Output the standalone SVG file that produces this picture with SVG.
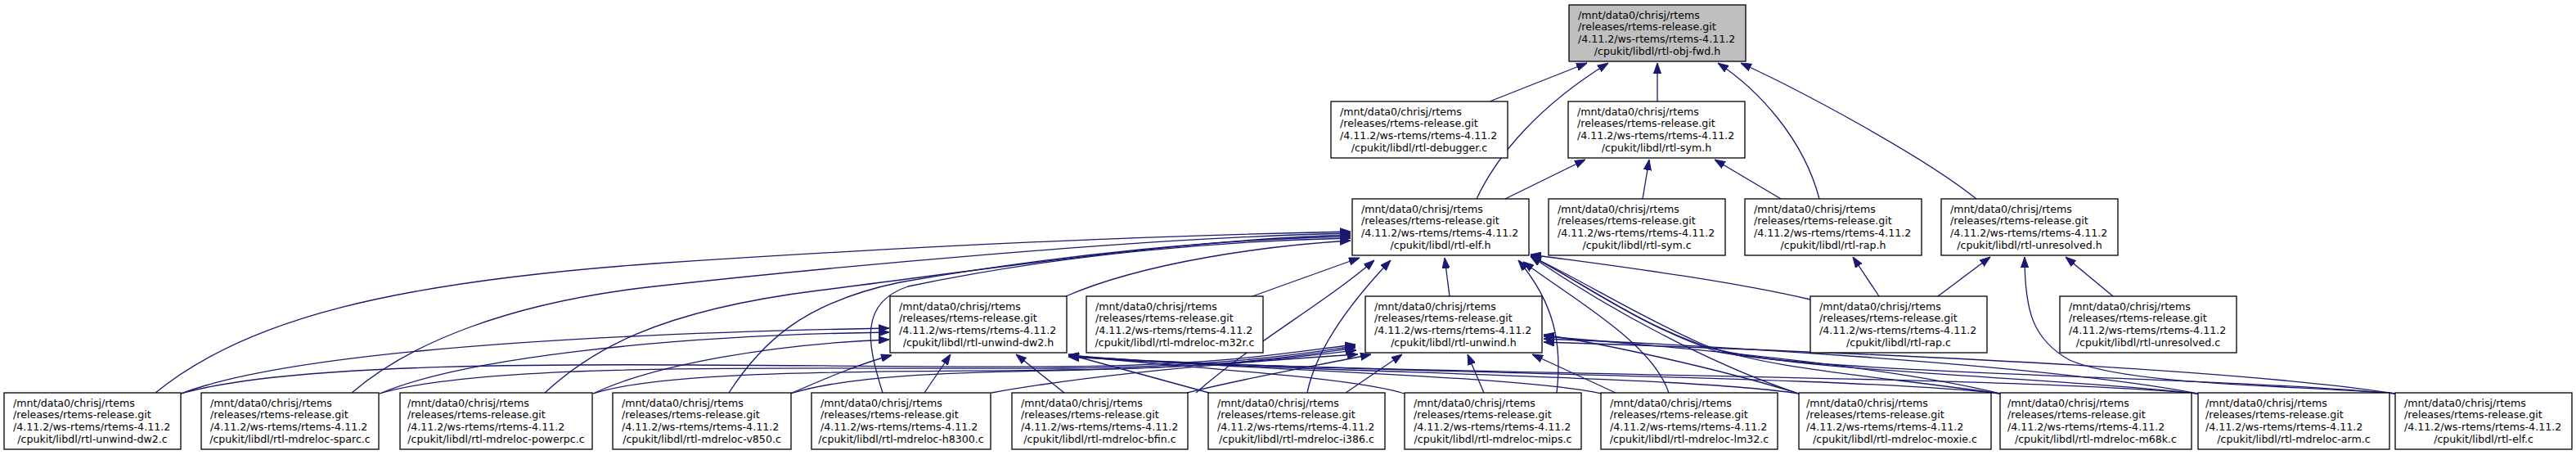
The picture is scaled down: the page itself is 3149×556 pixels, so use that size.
<svg xmlns="http://www.w3.org/2000/svg" width="3149" height="556" viewBox="0 0 3149 556">
<style>
.n rect{fill:#fff;stroke:#000;stroke-width:1.3}
#objfwd rect{fill:#bfbfbf}
text{font-family:"DejaVu Sans","Liberation Sans",sans-serif;font-size:12.6px;fill:#000}
.e path{fill:none;stroke:#191970;stroke-width:1.3;marker-end:url(#a)}
</style>
<defs>
<marker id="a" markerWidth="13" markerHeight="10" refX="13" refY="5" orient="auto" markerUnits="userSpaceOnUse"><path d="M0,0.4 L13,5 L0,9.6 z" fill="#191970" stroke="#191970" stroke-width="1"/></marker>
</defs>
<rect width="3149" height="556" fill="#fff"/>
<g id="connectors" class="e">
<path d="M1821,124 L1940,77"/>
<path d="M1805,243 C1830,190 1880,130 1966,77"/>
<path d="M2026,124 L2026,77"/>
<path d="M2224,243 C2205,170 2150,110 2100,77"/>
<path d="M2416,243 C2350,190 2200,110 2128,77"/>
<path d="M1840,243 L1938,195"/>
<path d="M2008,243 L2016,195"/>
<path d="M2177,243 L2096,195"/>
<path d="M2297,362 L2265,314"/>
<path d="M2369,362 L2433,314"/>
<path d="M2583,362 L2525,314"/>
<path d="M2930,481 C2780,470 2600,470 2530,440 C2485,415 2475,380 2475,314"/>
<path d="M1303,362 C1400,320 1550,300 1651,294"/>
<path d="M1531,362 L1662,315"/>
<path d="M1772,362 L1766,315"/>
<path d="M2213,366 C2100,340 1950,322 1871,311"/>
<path d="M190,480 C300,390 480,345 800,322 C1100,302 1400,288 1651,283"/>
<path d="M430,480 C500,420 620,370 800,350 C1000,328 1400,290 1651,285"/>
<path d="M666,480 C720,430 800,380 1000,355 C1200,330 1450,292 1651,287"/>
<path d="M891,480 C930,420 980,370 1100,345 C1300,310 1500,292 1651,289"/>
<path d="M1079,480 C1060,420 1050,370 1110,350 C1300,310 1500,294 1651,291"/>
<path d="M1462,480 C1530,420 1620,370 1680,318"/>
<path d="M1598,480 C1610,420 1660,360 1700,318"/>
<path d="M1903,480 C1910,420 1900,370 1856,318"/>
<path d="M2040,480 C2020,420 1930,370 1862,320"/>
<path d="M2199,481 C2120,455 2000,400 1871,313"/>
<path d="M2445,481 C2300,460 2150,450 2080,420 C2000,385 1930,340 1871,313"/>
<path d="M2687,481 C2500,460 2200,455 2090,425 C2000,395 1935,345 1871,313"/>
<path d="M2928,481 C2700,460 2250,458 2100,430 C2010,400 1940,350 1871,312"/>
<path d="M221,481 C330,440 600,410 1087,401"/>
<path d="M464,481 C560,440 800,410 1087,406"/>
<path d="M725,481 C800,445 950,420 1087,415"/>
<path d="M966,481 C1010,462 1050,445 1090,434"/>
<path d="M1130,480 L1162,433"/>
<path d="M1301,480 L1242,433"/>
<path d="M1478,480 L1306,433"/>
<path d="M1717,481 C1650,460 1450,450 1306,434"/>
<path d="M1958,481 C1850,458 1500,452 1306,434"/>
<path d="M2199,481 C2050,458 1550,455 1306,435"/>
<path d="M2445,481 C2250,458 1600,456 1306,435"/>
<path d="M2687,481 C2450,458 1650,458 1306,436"/>
<path d="M221,481 C400,430 900,450 1300,448 C1500,446 1580,430 1657,421"/>
<path d="M464,481 C600,440 1000,452 1300,450 C1500,448 1590,432 1657,423"/>
<path d="M725,481 C820,450 1100,455 1300,452 C1500,450 1590,434 1657,425"/>
<path d="M966,481 C1050,455 1200,455 1320,452 C1500,448 1590,436 1658,428"/>
<path d="M1212,480 C1350,455 1550,440 1660,433"/>
<path d="M1451,480 C1530,460 1620,445 1676,433"/>
<path d="M1645,480 L1714,433"/>
<path d="M1814,480 L1794,433"/>
<path d="M1975,480 L1873,433"/>
<path d="M2199,481 C2100,450 1960,420 1887,409"/>
<path d="M2445,481 C2300,445 2000,420 1887,411"/>
<path d="M2687,481 C2500,445 2050,420 1887,414"/>
<path d="M2928,481 C2700,445 2100,425 1887,418"/>
</g>
<g id="objfwd" class="n"><rect x="1918" y="6" width="216" height="69"/><text><tspan x="1929" y="22.5">/mnt/data0/chrisj/rtems</tspan><tspan x="1929" y="37.2">/releases/rtems-release.git</tspan><tspan x="1929" y="51.9">/4.11.2/ws-rtems/rtems-4.11.2</tspan><tspan x="2026" y="66.6" text-anchor="middle">/cpukit/libdl/rtl-obj-fwd.h</tspan></text></g>
<g id="debugger" class="n"><rect x="1627" y="124" width="216" height="69"/><text><tspan x="1638" y="140.5">/mnt/data0/chrisj/rtems</tspan><tspan x="1638" y="155.2">/releases/rtems-release.git</tspan><tspan x="1638" y="169.9">/4.11.2/ws-rtems/rtems-4.11.2</tspan><tspan x="1735" y="184.6" text-anchor="middle">/cpukit/libdl/rtl-debugger.c</tspan></text></g>
<g id="symh" class="n"><rect x="1917" y="124" width="216" height="69"/><text><tspan x="1928" y="140.5">/mnt/data0/chrisj/rtems</tspan><tspan x="1928" y="155.2">/releases/rtems-release.git</tspan><tspan x="1928" y="169.9">/4.11.2/ws-rtems/rtems-4.11.2</tspan><tspan x="2025" y="184.6" text-anchor="middle">/cpukit/libdl/rtl-sym.h</tspan></text></g>
<g id="elfh" class="n"><rect x="1653" y="243" width="216" height="69"/><text><tspan x="1664" y="259.5">/mnt/data0/chrisj/rtems</tspan><tspan x="1664" y="274.2">/releases/rtems-release.git</tspan><tspan x="1664" y="288.9">/4.11.2/ws-rtems/rtems-4.11.2</tspan><tspan x="1761" y="303.6" text-anchor="middle">/cpukit/libdl/rtl-elf.h</tspan></text></g>
<g id="symc" class="n"><rect x="1893" y="243" width="216" height="69"/><text><tspan x="1904" y="259.5">/mnt/data0/chrisj/rtems</tspan><tspan x="1904" y="274.2">/releases/rtems-release.git</tspan><tspan x="1904" y="288.9">/4.11.2/ws-rtems/rtems-4.11.2</tspan><tspan x="2001" y="303.6" text-anchor="middle">/cpukit/libdl/rtl-sym.c</tspan></text></g>
<g id="raph" class="n"><rect x="2133" y="243" width="216" height="69"/><text><tspan x="2144" y="259.5">/mnt/data0/chrisj/rtems</tspan><tspan x="2144" y="274.2">/releases/rtems-release.git</tspan><tspan x="2144" y="288.9">/4.11.2/ws-rtems/rtems-4.11.2</tspan><tspan x="2241" y="303.6" text-anchor="middle">/cpukit/libdl/rtl-rap.h</tspan></text></g>
<g id="unresh" class="n"><rect x="2373" y="243" width="216" height="69"/><text><tspan x="2384" y="259.5">/mnt/data0/chrisj/rtems</tspan><tspan x="2384" y="274.2">/releases/rtems-release.git</tspan><tspan x="2384" y="288.9">/4.11.2/ws-rtems/rtems-4.11.2</tspan><tspan x="2481" y="303.6" text-anchor="middle">/cpukit/libdl/rtl-unresolved.h</tspan></text></g>
<g id="dw2h" class="n"><rect x="1088" y="362" width="216" height="69"/><text><tspan x="1099" y="378.5">/mnt/data0/chrisj/rtems</tspan><tspan x="1099" y="393.2">/releases/rtems-release.git</tspan><tspan x="1099" y="407.9">/4.11.2/ws-rtems/rtems-4.11.2</tspan><tspan x="1196" y="422.6" text-anchor="middle">/cpukit/libdl/rtl-unwind-dw2.h</tspan></text></g>
<g id="m32r" class="n"><rect x="1328" y="362" width="216" height="69"/><text><tspan x="1339" y="378.5">/mnt/data0/chrisj/rtems</tspan><tspan x="1339" y="393.2">/releases/rtems-release.git</tspan><tspan x="1339" y="407.9">/4.11.2/ws-rtems/rtems-4.11.2</tspan><tspan x="1436" y="422.6" text-anchor="middle">/cpukit/libdl/rtl-mdreloc-m32r.c</tspan></text></g>
<g id="unwh" class="n"><rect x="1669" y="362" width="216" height="69"/><text><tspan x="1680" y="378.5">/mnt/data0/chrisj/rtems</tspan><tspan x="1680" y="393.2">/releases/rtems-release.git</tspan><tspan x="1680" y="407.9">/4.11.2/ws-rtems/rtems-4.11.2</tspan><tspan x="1777" y="422.6" text-anchor="middle">/cpukit/libdl/rtl-unwind.h</tspan></text></g>
<g id="rapc" class="n"><rect x="2213" y="362" width="216" height="69"/><text><tspan x="2224" y="378.5">/mnt/data0/chrisj/rtems</tspan><tspan x="2224" y="393.2">/releases/rtems-release.git</tspan><tspan x="2224" y="407.9">/4.11.2/ws-rtems/rtems-4.11.2</tspan><tspan x="2321" y="422.6" text-anchor="middle">/cpukit/libdl/rtl-rap.c</tspan></text></g>
<g id="unresc" class="n"><rect x="2518" y="362" width="216" height="69"/><text><tspan x="2529" y="378.5">/mnt/data0/chrisj/rtems</tspan><tspan x="2529" y="393.2">/releases/rtems-release.git</tspan><tspan x="2529" y="407.9">/4.11.2/ws-rtems/rtems-4.11.2</tspan><tspan x="2626" y="422.6" text-anchor="middle">/cpukit/libdl/rtl-unresolved.c</tspan></text></g>
<g id="dw2c" class="n"><rect x="5" y="480" width="216" height="69"/><text><tspan x="16" y="496.5">/mnt/data0/chrisj/rtems</tspan><tspan x="16" y="511.2">/releases/rtems-release.git</tspan><tspan x="16" y="525.9">/4.11.2/ws-rtems/rtems-4.11.2</tspan><tspan x="113" y="540.6" text-anchor="middle">/cpukit/libdl/rtl-unwind-dw2.c</tspan></text></g>
<g id="sparc" class="n"><rect x="246" y="480" width="217" height="69"/><text><tspan x="257" y="496.5">/mnt/data0/chrisj/rtems</tspan><tspan x="257" y="511.2">/releases/rtems-release.git</tspan><tspan x="257" y="525.9">/4.11.2/ws-rtems/rtems-4.11.2</tspan><tspan x="354.5" y="540.6" text-anchor="middle">/cpukit/libdl/rtl-mdreloc-sparc.c</tspan></text></g>
<g id="powerpc" class="n"><rect x="489" y="480" width="235" height="69"/><text><tspan x="498" y="496.5">/mnt/data0/chrisj/rtems</tspan><tspan x="498" y="511.2">/releases/rtems-release.git</tspan><tspan x="498" y="525.9">/4.11.2/ws-rtems/rtems-4.11.2</tspan><tspan x="606.5" y="540.6" text-anchor="middle">/cpukit/libdl/rtl-mdreloc-powerpc.c</tspan></text></g>
<g id="v850" class="n"><rect x="749" y="480" width="218" height="69"/><text><tspan x="760" y="496.5">/mnt/data0/chrisj/rtems</tspan><tspan x="760" y="511.2">/releases/rtems-release.git</tspan><tspan x="760" y="525.9">/4.11.2/ws-rtems/rtems-4.11.2</tspan><tspan x="858" y="540.6" text-anchor="middle">/cpukit/libdl/rtl-mdreloc-v850.c</tspan></text></g>
<g id="h8300" class="n"><rect x="992" y="480" width="219" height="69"/><text><tspan x="1003" y="496.5">/mnt/data0/chrisj/rtems</tspan><tspan x="1003" y="511.2">/releases/rtems-release.git</tspan><tspan x="1003" y="525.9">/4.11.2/ws-rtems/rtems-4.11.2</tspan><tspan x="1101.5" y="540.6" text-anchor="middle">/cpukit/libdl/rtl-mdreloc-h8300.c</tspan></text></g>
<g id="bfin" class="n"><rect x="1237" y="480" width="215" height="69"/><text><tspan x="1248" y="496.5">/mnt/data0/chrisj/rtems</tspan><tspan x="1248" y="511.2">/releases/rtems-release.git</tspan><tspan x="1248" y="525.9">/4.11.2/ws-rtems/rtems-4.11.2</tspan><tspan x="1344.5" y="540.6" text-anchor="middle">/cpukit/libdl/rtl-mdreloc-bfin.c</tspan></text></g>
<g id="i386" class="n"><rect x="1477" y="480" width="216" height="69"/><text><tspan x="1488" y="496.5">/mnt/data0/chrisj/rtems</tspan><tspan x="1488" y="511.2">/releases/rtems-release.git</tspan><tspan x="1488" y="525.9">/4.11.2/ws-rtems/rtems-4.11.2</tspan><tspan x="1585" y="540.6" text-anchor="middle">/cpukit/libdl/rtl-mdreloc-i386.c</tspan></text></g>
<g id="mips" class="n"><rect x="1717" y="480" width="216" height="69"/><text><tspan x="1728" y="496.5">/mnt/data0/chrisj/rtems</tspan><tspan x="1728" y="511.2">/releases/rtems-release.git</tspan><tspan x="1728" y="525.9">/4.11.2/ws-rtems/rtems-4.11.2</tspan><tspan x="1825" y="540.6" text-anchor="middle">/cpukit/libdl/rtl-mdreloc-mips.c</tspan></text></g>
<g id="lm32" class="n"><rect x="1957" y="480" width="216" height="69"/><text><tspan x="1968" y="496.5">/mnt/data0/chrisj/rtems</tspan><tspan x="1968" y="511.2">/releases/rtems-release.git</tspan><tspan x="1968" y="525.9">/4.11.2/ws-rtems/rtems-4.11.2</tspan><tspan x="2065" y="540.6" text-anchor="middle">/cpukit/libdl/rtl-mdreloc-lm32.c</tspan></text></g>
<g id="moxie" class="n"><rect x="2199" y="480" width="235" height="69"/><text><tspan x="2208" y="496.5">/mnt/data0/chrisj/rtems</tspan><tspan x="2208" y="511.2">/releases/rtems-release.git</tspan><tspan x="2208" y="525.9">/4.11.2/ws-rtems/rtems-4.11.2</tspan><tspan x="2316.5" y="540.6" text-anchor="middle">/cpukit/libdl/rtl-mdreloc-moxie.c</tspan></text></g>
<g id="m68k" class="n"><rect x="2445" y="480" width="234" height="69"/><text><tspan x="2454" y="496.5">/mnt/data0/chrisj/rtems</tspan><tspan x="2454" y="511.2">/releases/rtems-release.git</tspan><tspan x="2454" y="525.9">/4.11.2/ws-rtems/rtems-4.11.2</tspan><tspan x="2562" y="540.6" text-anchor="middle">/cpukit/libdl/rtl-mdreloc-m68k.c</tspan></text></g>
<g id="arm" class="n"><rect x="2687" y="480" width="234" height="69"/><text><tspan x="2696" y="496.5">/mnt/data0/chrisj/rtems</tspan><tspan x="2696" y="511.2">/releases/rtems-release.git</tspan><tspan x="2696" y="525.9">/4.11.2/ws-rtems/rtems-4.11.2</tspan><tspan x="2804" y="540.6" text-anchor="middle">/cpukit/libdl/rtl-mdreloc-arm.c</tspan></text></g>
<g id="elfc" class="n"><rect x="2928" y="480" width="216" height="69"/><text><tspan x="2939" y="496.5">/mnt/data0/chrisj/rtems</tspan><tspan x="2939" y="511.2">/releases/rtems-release.git</tspan><tspan x="2939" y="525.9">/4.11.2/ws-rtems/rtems-4.11.2</tspan><tspan x="3036" y="540.6" text-anchor="middle">/cpukit/libdl/rtl-elf.c</tspan></text></g>
</svg>
